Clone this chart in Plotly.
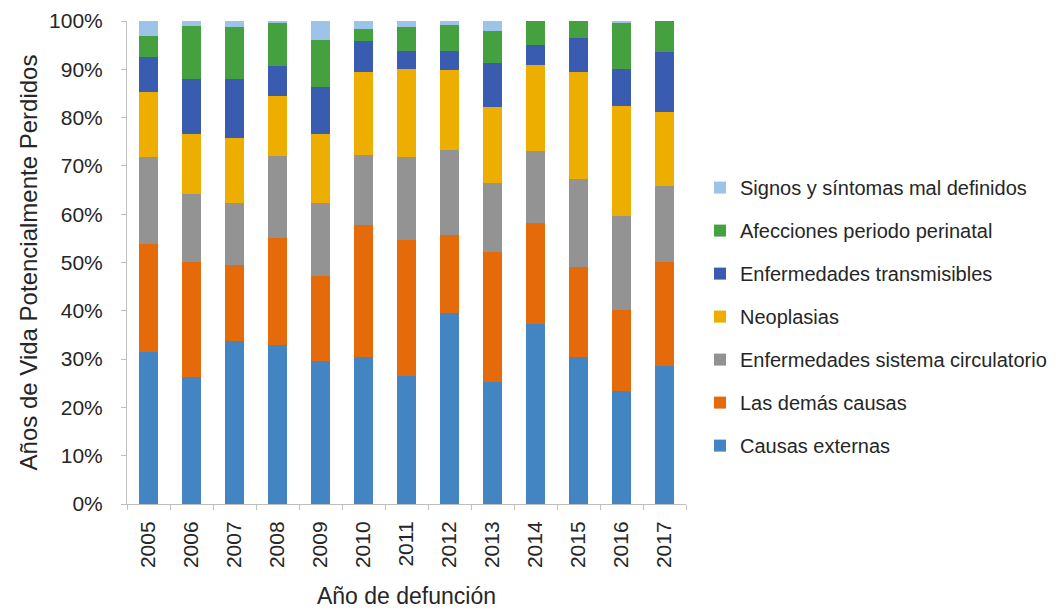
import plotly.graph_objects as go

years = [str(y) for y in range(2005, 2018)]

# shares (%), bottom to top of each bar
causas_externas = [31.4, 26.3, 33.7, 33.0, 29.7, 30.5, 26.6, 39.6, 25.2, 37.2, 30.4, 23.3, 28.5]
demas_causas = [22.4, 23.9, 15.8, 22.0, 17.6, 27.2, 28.1, 16.1, 27.0, 20.9, 18.6, 16.9, 21.7]
circulatorio = [18.1, 13.9, 12.8, 17.0, 15.0, 14.5, 17.2, 17.5, 14.3, 15.0, 18.2, 19.4, 15.6]
neoplasias = [13.4, 12.5, 13.5, 12.4, 14.4, 17.2, 18.2, 16.7, 15.6, 17.7, 22.2, 22.8, 15.3]
transmisibles = [7.2, 11.3, 12.1, 6.2, 9.6, 6.5, 3.6, 3.8, 9.2, 4.3, 7.1, 7.7, 12.5]
perinatal = [4.4, 11.0, 10.8, 8.9, 9.8, 2.5, 5.0, 5.5, 6.7, 4.9, 3.5, 9.4, 6.4]
signos = [3.1, 1.1, 1.3, 0.5, 3.9, 1.6, 1.3, 0.8, 2.0, 0.0, 0.0, 0.5, 0.0]

series = [
    ("Causas externas", causas_externas, "#4285C2"),
    ("Las demás causas", demas_causas, "#E46A0A"),
    ("Enfermedades sistema circulatorio", circulatorio, "#939393"),
    ("Neoplasias", neoplasias, "#EDAE00"),
    ("Enfermedades transmisibles", transmisibles, "#3A5CB0"),
    ("Afecciones periodo perinatal", perinatal, "#45A03F"),
    ("Signos y síntomas mal definidos", signos, "#9DC3E8"),
]

fig = go.Figure()
for i, (name, vals, color) in enumerate(series):
    # last stacked series goes on top of the legend
    fig.add_trace(go.Bar(
        x=years, y=vals, name=name, legendgroup=name, legendrank=1000 - i,
        marker=dict(color=color, line=dict(width=0)),
    ))

font = "Liberation Sans, Arial, sans-serif"
fig.update_layout(
    width=1051, height=603,
    barmode="stack", barnorm="percent", bargap=0.58,
    plot_bgcolor="white", paper_bgcolor="white",
    margin=dict(l=119, r=373, t=13, b=107, autoexpand=False),
    font=dict(family=font, size=21, color="#262626"),
    legend=dict(
        x=1.025, y=0.388, xanchor="left", yanchor="middle",
        traceorder="grouped", tracegroupgap=14,
        font=dict(size=20), itemwidth=30,
    ),
    xaxis=dict(
        title=dict(text="Año de defunción", standoff=20, font=dict(size=23)),
        tickangle=-90, showline=True, linecolor="#BFBFBF", ticklabelstandoff=8,
        ticks="outside", tickson="boundaries", tickcolor="#BFBFBF", ticklen=5,
    ),
    yaxis=dict(
        title=dict(text="Años de Vida Potencialmente Perdidos", standoff=4, font=dict(size=24)),
        range=[0, 100], dtick=10, ticksuffix="%", showgrid=False, ticklabelstandoff=14,
        showline=True, linecolor="#BFBFBF", ticks="outside", tickcolor="#BFBFBF", ticklen=5,
        zeroline=False,
    ),
)

fig.write_html("out.html")
